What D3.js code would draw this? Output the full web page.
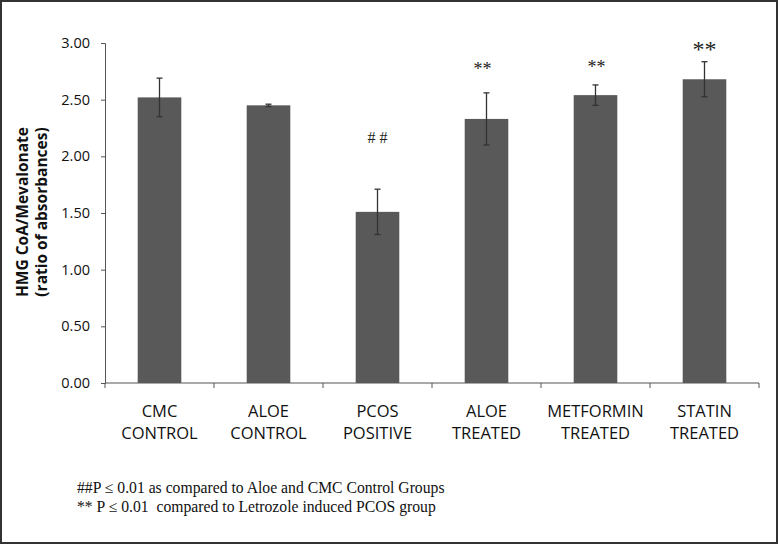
<!DOCTYPE html>
<html><head><meta charset="utf-8">
<script src="https://cdn.jsdelivr.net/npm/d3@7"></script>
<style>body{margin:0;background:#fff}svg{display:block}</style>
</head><body>
<script>
const categories = ["CMC CONTROL","ALOE CONTROL","PCOS POSITIVE","ALOE TREATED","METFORMIN TREATED","STATIN TREATED"];
const means = [2.52, 2.45, 1.51, 2.33, 2.54, 2.68];
const errors = [0.17, 0.01, 0.20, 0.23, 0.09, 0.155];
const marks = ["", "", "# #", "**", "**", "**"];
const markLevels = [null, null, 2.12, 2.717, 2.735, 2.875];
const yTicks = [0, 0.5, 1.0, 1.5, 2.0, 2.5, 3.0];
const footnotes = ["##P \u2264 0.01 as compared to Aloe and CMC Control Groups", "** P \u2264 0.01  compared to Letrozole induced PCOS group"];

const W = 778, H = 544;
const svg = d3.select("body").append("svg").attr("width", W).attr("height", H);
svg.append("rect").attr("x",1).attr("y",1).attr("width",W-2).attr("height",H-2)
  .attr("fill","#fff").attr("stroke","#333").attr("stroke-width",2);

const mLeft = 105, mRight = 759, mTop = 43, mBottom = 383;
const x = d3.scaleBand().domain(categories).range([mLeft, mRight]).paddingInner(0.6).paddingOuter(0.3);
const y = d3.scaleLinear().domain([0, 3]).range([mBottom, mTop]);

// y axis
const ya = svg.append("g").attr("transform", `translate(${mLeft},0)`)
  .call(d3.axisLeft(y).tickValues(yTicks).tickFormat(d3.format(".2f")).tickSize(4).tickPadding(11));
ya.select(".domain").attr("stroke","#555");
ya.selectAll(".tick line").attr("stroke","#555");
ya.selectAll("text").attr("font-family","Open Sans, sans-serif").attr("font-size",14.5).attr("fill","#111");

// x axis line and boundary ticks
svg.append("line").attr("x1",mLeft).attr("x2",mRight).attr("y1",mBottom).attr("y2",mBottom).attr("stroke","#555");
d3.range(categories.length+1).forEach(i=>{
  const xx = mLeft + i*(mRight-mLeft)/categories.length;
  svg.append("line").attr("x1",xx).attr("x2",xx).attr("y1",mBottom).attr("y2",mBottom+5).attr("stroke","#555");
});

// bars
svg.selectAll("rect.bar").data(categories).join("rect").attr("class","bar")
  .attr("x", d=>x(d)).attr("width", x.bandwidth())
  .attr("y", (d,i)=>y(means[i])).attr("height", (d,i)=>y(0)-y(means[i]))
  .attr("fill","#595959");

// error bars
categories.forEach((c,i)=>{
  const cx = x(c)+x.bandwidth()/2;
  const g = svg.append("g").attr("stroke","#333").attr("stroke-width",1.3);
  g.append("line").attr("x1",cx).attr("x2",cx).attr("y1",y(means[i]+errors[i])).attr("y2",y(means[i]-errors[i]));
  [means[i]+errors[i], means[i]-errors[i]].forEach(v=>{
    g.append("line").attr("x1",cx-3).attr("x2",cx+3).attr("y1",y(v)).attr("y2",y(v));
  });
});

// significance marks
categories.forEach((c,i)=>{
  if(!marks[i]) return;
  const cx = x(c)+x.bandwidth()/2 - (i===3 ? 4 : (i===4 ? -1 : 0));
  svg.append("text").attr("x",cx).attr("y",y(markLevels[i]))
    .attr("text-anchor","middle").attr("font-family","Liberation Serif, serif")
    .attr("font-size", i===5 ? 24 : (i===2 ? 16 : 18)).attr("fill","#222")
    .text(marks[i]);
});

// category labels
categories.forEach(c=>{
  const cx = x(c)+x.bandwidth()/2;
  const parts = c.split(" ");
  const t = svg.append("text").attr("text-anchor","middle").attr("font-family","Open Sans, sans-serif")
    .attr("font-size",16.5).attr("fill","#111");
  parts.forEach((p,j)=>t.append("tspan").attr("x",cx).attr("y",417+j*22).text(p));
});

// y label
const yl = svg.append("text").attr("transform","translate(0,212) rotate(-90)")
  .attr("text-anchor","middle").attr("font-family","Open Sans, sans-serif").attr("font-weight","bold")
  .attr("font-size",15.5).attr("fill","#111");
yl.append("tspan").attr("x",0).attr("y",28).text("HMG CoA/Mevalonate");
yl.append("tspan").attr("x",0).attr("y",47).text("(ratio of absorbances)");

// footnotes
footnotes.forEach((f,i)=>{
  svg.append("text").attr("x",77).attr("y",493+i*19).attr("font-family","Liberation Serif, serif")
    .attr("font-size",15.7).attr("fill","#111").style("white-space","pre").text(f);
});
</script>
</body></html>
